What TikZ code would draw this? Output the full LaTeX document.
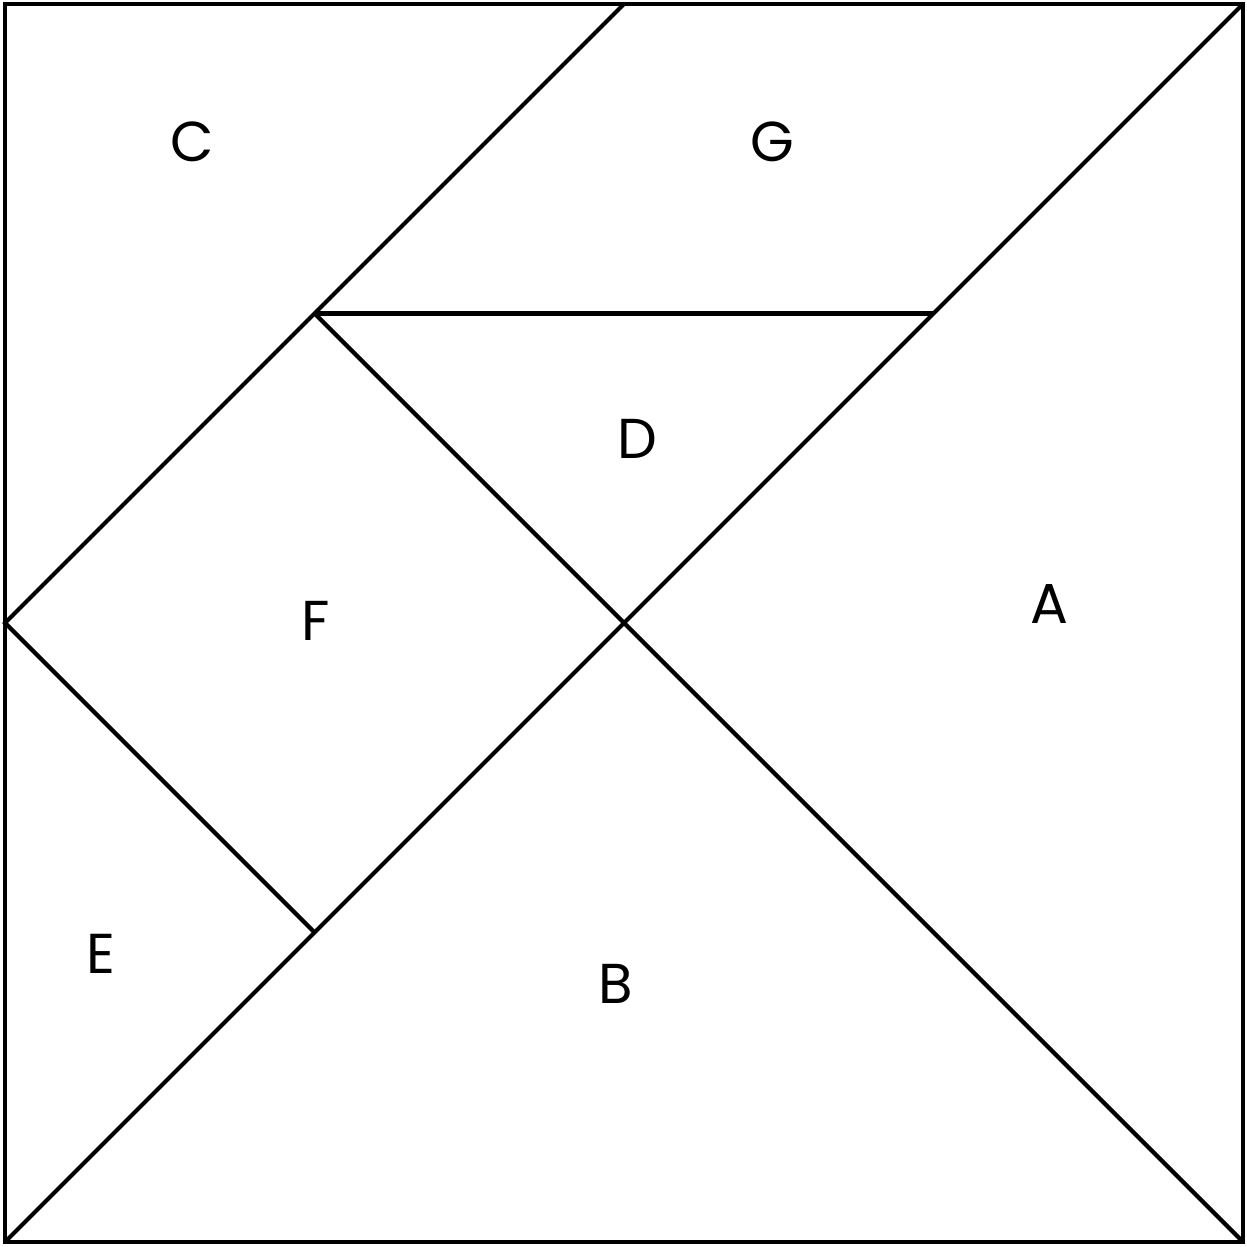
\documentclass[tikz,border=0pt]{standalone}
\usepackage{fontspec}
\setmainfont{Poppins}
\usepackage{tikz}

\begin{document}
\begin{tikzpicture}[
    x=3.095cm, y=3.095cm,
    piece/.style={draw=black, line width=1.2pt, line join=miter},
    tag/.style={font=\fontsize{16}{18}\selectfont, inner sep=0pt}
  ]
  \useasboundingbox (-0.0162,-0.0162) rectangle (4.0129,4.0129);
  % corners and cut points
  \coordinate (BL) at (0,0);
  \coordinate (BR) at (4,0);
  \coordinate (TR) at (4,4);
  \coordinate (TL) at (0,4);
  \coordinate (Mid) at (2,2);
  \coordinate (TopM) at (2,4);
  \coordinate (LeftM) at (0,2);
  \coordinate (P1) at (1,3);
  \coordinate (P2) at (3,3);
  \coordinate (P3) at (1,1);

  \draw [piece] (BL) rectangle (TR);
  \draw [piece] (BL) -- (TR);
  \draw [piece] (P1) -- (Mid) -- (BR);
  \draw [piece] (TopM) -- (P1) -- (LeftM) -- (P3);
  \draw [piece] (P1) -- (P2);

  \node (C) [tag] at (0.604,3.554) {C};
  \node (G) [tag] at (2.48,3.554) {G};
  \node (D) [tag] at (2.042,2.594) {D};
  \node (A) [tag] at (3.373,2.061) {A};
  \node (F) [tag] at (1.005,2.006) {F};
  \node (E) [tag] at (0.31,0.93) {E};
  \node (B) [tag] at (1.974,0.834) {B};
\end{tikzpicture}
\end{document}
